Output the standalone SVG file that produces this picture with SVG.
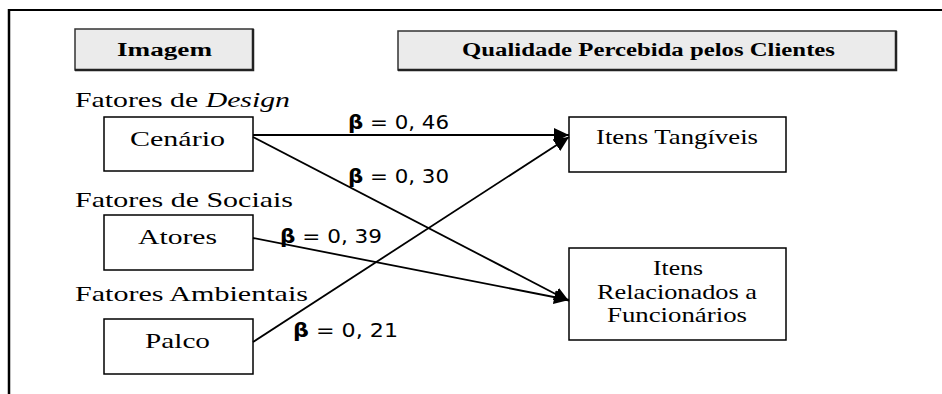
<svg xmlns="http://www.w3.org/2000/svg" width="942" height="394" viewBox="0 0 942 394">
<style>
.hdr{fill:#ebebeb;stroke:#333;stroke-width:1.5}
.shadow{stroke:#222;stroke-width:2.5;fill:none}
.box{fill:#fff;stroke:#000;stroke-width:1.5}
.hb{font-family:"Liberation Serif","Times New Roman",serif;font-weight:bold;font-size:18px;fill:#000}
.sr{font-family:"Liberation Serif","Times New Roman",serif;font-size:22px;fill:#000}
.bt{font-family:"DejaVu Sans",sans-serif;font-size:19px;fill:#000}
.edge{stroke:#000;stroke-width:1.8;fill:none;marker-end:url(#ah)}
</style>
<defs>
<marker id="ah" markerUnits="userSpaceOnUse" markerWidth="16" markerHeight="14" refX="15" refY="7" orient="auto">
<path d="M0,0 L15,7 L0,14 z" fill="#000"/>
</marker>
</defs>
<rect width="942" height="394" fill="#fff"/>
<g id="frame">
<line x1="8" y1="10" x2="942" y2="10" stroke="#000" stroke-width="2"/>
<line x1="9" y1="9" x2="9" y2="394" stroke="#000" stroke-width="2.5"/>
</g>
<g id="imagem">
<rect class="hdr" x="75" y="29" width="178" height="41"/>
<polyline class="shadow" points="253,29 253,70 75,70"/>
<text class="hb" x="117" y="56" textLength="95" lengthAdjust="spacingAndGlyphs">Imagem</text>
</g>
<g id="qualidade">
<rect class="hdr" x="398" y="31" width="498" height="39"/>
<polyline class="shadow" points="896,31 896,70 398,70"/>
<text class="hb" x="462" y="56" textLength="373" lengthAdjust="spacingAndGlyphs">Qualidade Percebida pelos Clientes</text>
</g>
<g id="labels">
<text class="sr" x="75" y="107" textLength="215" lengthAdjust="spacingAndGlyphs">Fatores de <tspan font-style="italic">Design</tspan></text>
<text class="sr" x="75" y="207" textLength="218" lengthAdjust="spacingAndGlyphs">Fatores de Sociais</text>
<text class="sr" x="75" y="301" textLength="233" lengthAdjust="spacingAndGlyphs">Fatores Ambientais</text>
</g>
<g id="cenario">
<rect class="box" x="104" y="117" width="149" height="54"/>
<text class="sr" x="130" y="146" textLength="95" lengthAdjust="spacingAndGlyphs">Cenário</text>
</g>
<g id="atores">
<rect class="box" x="104" y="215" width="149" height="55"/>
<text class="sr" x="138" y="244" textLength="79" lengthAdjust="spacingAndGlyphs">Atores</text>
</g>
<g id="palco">
<rect class="box" x="104" y="319" width="149" height="55"/>
<text class="sr" x="145" y="348" textLength="65" lengthAdjust="spacingAndGlyphs">Palco</text>
</g>
<g id="tangiveis">
<rect class="box" x="569" y="117" width="217" height="55"/>
<text class="sr" x="596" y="144" textLength="162" lengthAdjust="spacingAndGlyphs">Itens Tangíveis</text>
</g>
<g id="relacionados">
<rect class="box" x="569" y="248" width="217" height="92"/>
<text class="sr" x="653" y="275" textLength="50" lengthAdjust="spacingAndGlyphs">Itens</text>
<text class="sr" x="597" y="299" textLength="160" lengthAdjust="spacingAndGlyphs">Relacionados a</text>
<text class="sr" x="607" y="322" textLength="140" lengthAdjust="spacingAndGlyphs">Funcionários</text>
</g>
<g id="connectors">
<line class="edge" x1="253" y1="135" x2="569" y2="135"/>
<line class="edge" x1="253" y1="137" x2="569" y2="301"/>
<line class="edge" x1="253" y1="238" x2="569" y2="300"/>
<line class="edge" x1="253" y1="342" x2="569" y2="137"/>
<text class="bt" x="348" y="129" textLength="101" lengthAdjust="spacingAndGlyphs"><tspan font-weight="bold">β</tspan> = 0, 46</text>
<text class="bt" x="348" y="183" textLength="101" lengthAdjust="spacingAndGlyphs"><tspan font-weight="bold">β</tspan> = 0, 30</text>
<text class="bt" x="280" y="243" textLength="102" lengthAdjust="spacingAndGlyphs"><tspan font-weight="bold">β</tspan> = 0, 39</text>
<text class="bt" x="293" y="337" textLength="105" lengthAdjust="spacingAndGlyphs"><tspan font-weight="bold">β</tspan> = 0, 21</text>
</g>
</svg>
